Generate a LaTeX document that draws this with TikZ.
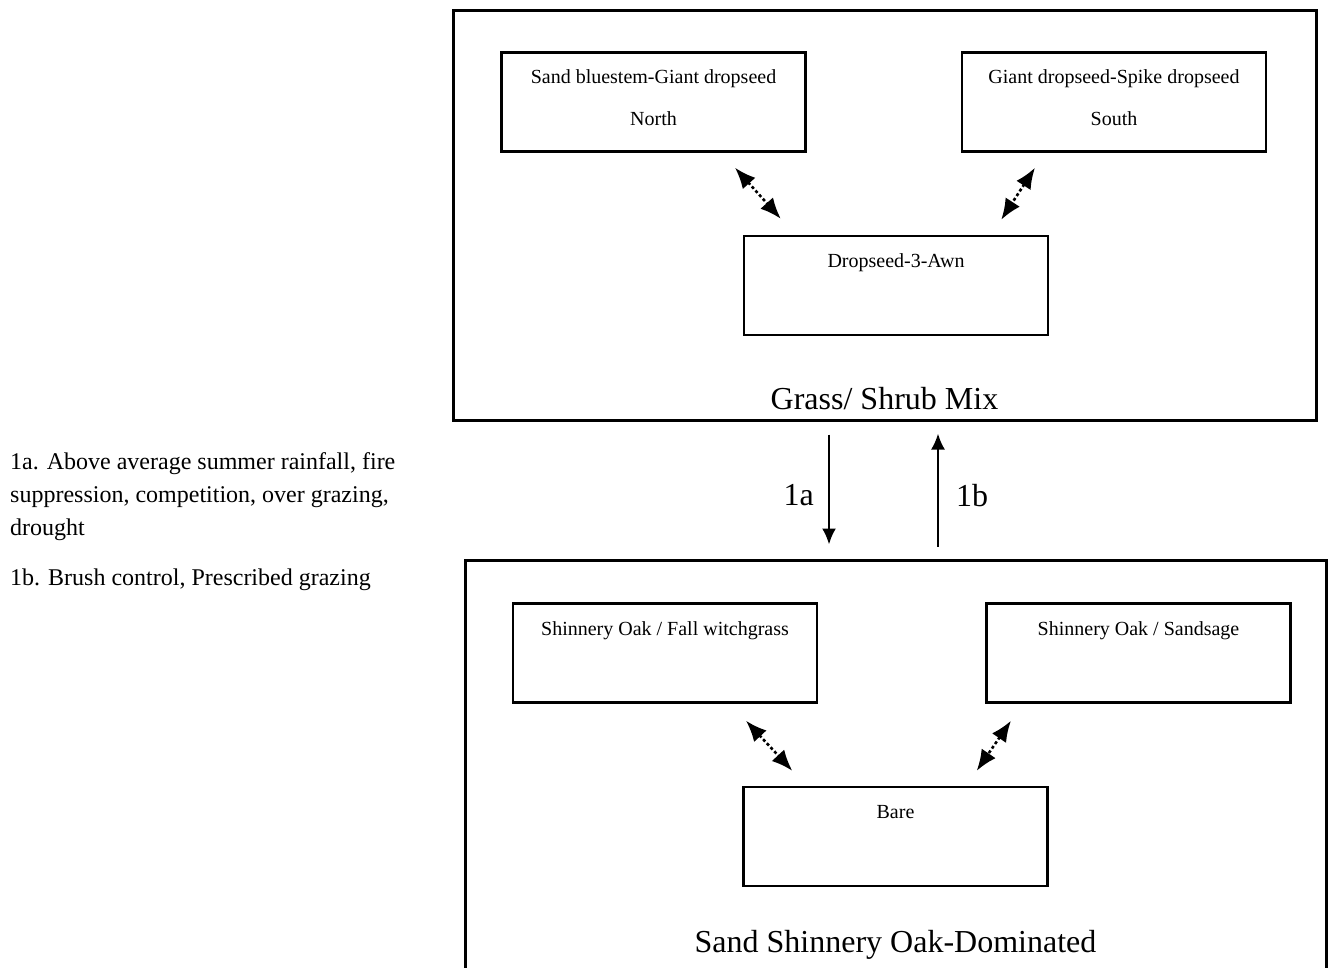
\documentclass[tikz,border=0pt]{standalone}
\usepackage{fontspec}
\setmainfont{Liberation Serif}
\usetikzlibrary{arrows.meta,positioning,calc}

\begin{document}
\begin{tikzpicture}[x=1pt,y=-1pt,
  bigbox/.style={draw,line width=3pt,inner sep=0pt},
  smallbox/.style={draw,line width=2.4pt,minimum width=304pt,minimum height=99pt,inner sep=0pt},
  boxtext/.style={font=\fontsize{20}{24}\selectfont,inner sep=0pt,align=center},
  statelabel/.style={font=\fontsize{32}{38}\selectfont,inner sep=0pt},
  pathway/.style={{Latex[length=21pt,width=17pt]}-{Latex[length=21pt,width=17pt]},line width=2.6pt,dash pattern=on 3pt off 2.5pt},
  transition/.style={-{Latex[length=16pt,width=14pt]},line width=2.4pt}]
\useasboundingbox (0,0) rectangle (1328,967);

% states
\node[bigbox,minimum width=863pt,minimum height=410pt] (grassmix) at (884.5,215) {};
\node[bigbox,minimum width=861pt,minimum height=440pt] (oakdom) at (895.5,780) {};
\node[statelabel] [above=11pt of grassmix.south] {Grass/ Shrub Mix};
\node[statelabel] [below=372pt of oakdom.north] {Sand Shinnery Oak-Dominated};

% communities
\node[smallbox] (sandblue) at (653.5,102) {};
\node[smallbox] (giantspike) at (1114,102) {};
\node[smallbox] (dropawn) at (896,285.5) {};
\node[smallbox] (oakwitch) at (665,653) {};
\node[smallbox] (oaksage) at (1138.5,653) {};
\node[smallbox] (bare) at (895.5,836.5) {};

\node[boxtext] [below=18pt of sandblue.north] {Sand bluestem-Giant dropseed\\[18pt]North};
\node[boxtext] [below=18pt of giantspike.north] {Giant dropseed-Spike dropseed\\[18pt]South};
\node[boxtext] [below=19pt of dropawn.north] {Dropseed-3-Awn};
\node[boxtext] [below=19pt of oakwitch.north] {Shinnery Oak / Fall witchgrass};
\node[boxtext] [below=19pt of oaksage.north] {Shinnery Oak / Sandsage};
\node[boxtext] [below=19pt of bare.north] {Bare};

\draw[pathway] ($(sandblue.south)+(81.5,15)$) -- ($(dropawn.north west)+(38,-16)$);
\draw[pathway] ($(giantspike.south)+(-79,15)$) -- ($(dropawn.north east)+(-48,-15)$);
\draw[pathway] ($(oakwitch.south)+(81,17)$) -- ($(bare.north west)+(50,-15)$);
\draw[pathway] ($(oaksage.south)+(-127.5,17)$) -- ($(bare.north east)+(-72,-15)$);

% transitions
\draw[transition] ($(grassmix.south)+(-55.5,13)$) -- node[statelabel,left=14pt,yshift=-6pt] {1a} ($(oakdom.north)+(-66.5,-14)$);
\draw[transition] ($(oakdom.north)+(42.5,-12)$) -- node[statelabel,right=17pt,yshift=-6pt] {1b} ($(grassmix.south)+(53.5,12)$);

\node[font=\fontsize{24}{33}\selectfont,align=left,inner sep=0pt,anchor=north west] (notes) at (10,452)
  {1a. Above average summer rainfall, fire\\suppression, competition, over grazing,\\drought\\[17pt]1b. Brush control, Prescribed grazing};
\end{tikzpicture}
\end{document}
